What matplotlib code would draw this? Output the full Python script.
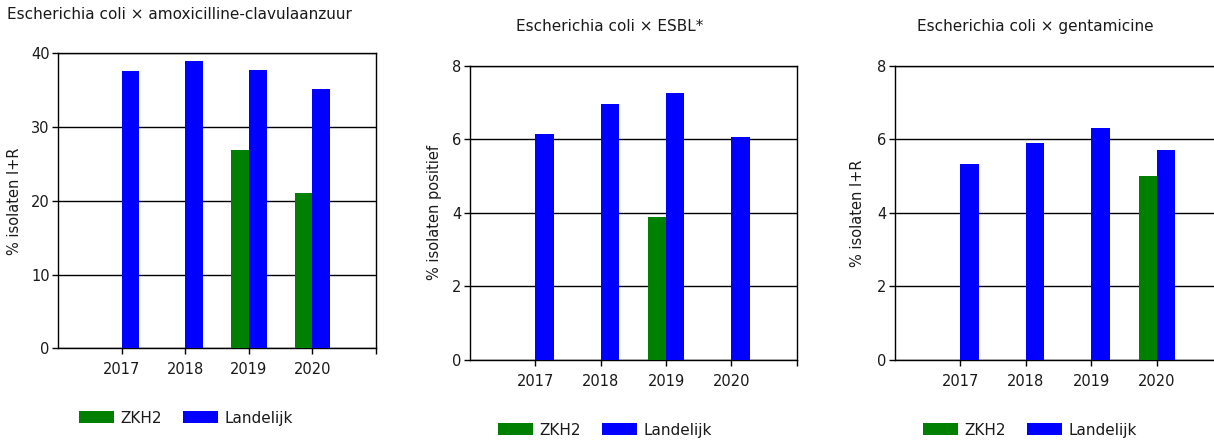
import numpy as np
import matplotlib.pyplot as plt

plt.rcParams['font.family'] = ['DejaVu Sans']

years = ['2017', '2018', '2019', '2020']

# amoxicilline-clavulaanzuur
amc_zkh2 = [0, 0, 26.9, 21.0]
amc_land = [37.6, 39.0, 37.8, 35.1]

# ESBL
esbl_zkh2 = [0, 0, 3.88, 0]
esbl_land = [6.14, 6.97, 7.27, 6.06]

# gentamicine
gen_zkh2 = [0, 0, 0, 5.01]
gen_land = [5.34, 5.89, 6.31, 5.72]

titles = ['Escherichia coli \u00d7 amoxicilline-clavulaanzuur',
          'Escherichia coli \u00d7 ESBL*',
          'Escherichia coli \u00d7 gentamicine']
ylabels = ['% isolaten I+R', '% isolaten positief', '% isolaten I+R']

green = '#008000'
blue = '#0000ff'
txt = '#1a1a1a'

fig = plt.figure(figsize=(12.14, 4.43), dpi=100)

panels = [
    dict(pos=[0.0478, 0.2138, 0.2619, 0.6659], zkh=amc_zkh2, land=amc_land,
         ymax=40, yt=[0, 10, 20, 30, 40], title_xy=(0.0058, 0.968), ha='left',
         ylab_x=0.0178, leg=(0.1532, 0.0564)),
    dict(pos=[0.3871, 0.1874, 0.2692, 0.6643], zkh=esbl_zkh2, land=esbl_land,
         ymax=8, yt=[0, 2, 4, 6, 8], title_xy=(0.5025, 0.941), ha='center',
         ylab_x=0.3638, leg=(0.4984, 0.0293)),
    dict(pos=[0.7372, 0.1874, 0.2698, 0.6643], zkh=gen_zkh2, land=gen_land,
         ymax=8, yt=[0, 2, 4, 6, 8], title_xy=(0.8526, 0.941), ha='center',
         ylab_x=0.7122, leg=(0.8485, 0.0293)),
]

x = np.arange(len(years))
w = 0.28

for i, p in enumerate(panels):
    ax = fig.add_axes(p['pos'])
    b1 = ax.bar(x - w / 2, p['zkh'], w, color=green, label='ZKH2', zorder=3)
    b2 = ax.bar(x + w / 2, p['land'], w, color=blue, label='Landelijk', zorder=3)
    ax.set_xlim(-1, 4)
    ax.set_ylim(0, p['ymax'])
    ax.set_yticks(p['yt'])
    ax.set_xticks(list(x) + [4])
    ax.set_xticklabels(years + [''])
    ax.yaxis.grid(True, color='black', linewidth=1.0, zorder=1)
    for s in ax.spines.values():
        s.set_color('black')
        s.set_linewidth(1.0)
    ax.tick_params(axis='both', direction='out', length=4, width=1,
                   labelsize=10.5, colors='black')
    ax.tick_params(axis='x', pad=6)
    ax.tick_params(axis='y', pad=2)
    for lab in ax.get_xticklabels() + ax.get_yticklabels():
        lab.set_color(txt)
    ax.set_ylabel(ylabels[i], fontsize=10.5, color=txt)
    ax.yaxis.set_label_coords(p['ylab_x'], p['pos'][1] + p['pos'][3] / 2,
                              transform=fig.transFigure)
    fig.text(p['title_xy'][0], p['title_xy'][1], titles[i], ha=p['ha'],
             va='center', fontsize=11, color=txt)
    fig.legend(handles=[b1, b2], labels=['ZKH2', 'Landelijk'], loc='center',
               bbox_to_anchor=p['leg'], ncol=2, frameon=False, fontsize=11,
               handlelength=2.3, handleheight=0.8, handletextpad=0.4,
               columnspacing=1.4, labelcolor=txt)

fig.savefig('out.png', dpi=100)
